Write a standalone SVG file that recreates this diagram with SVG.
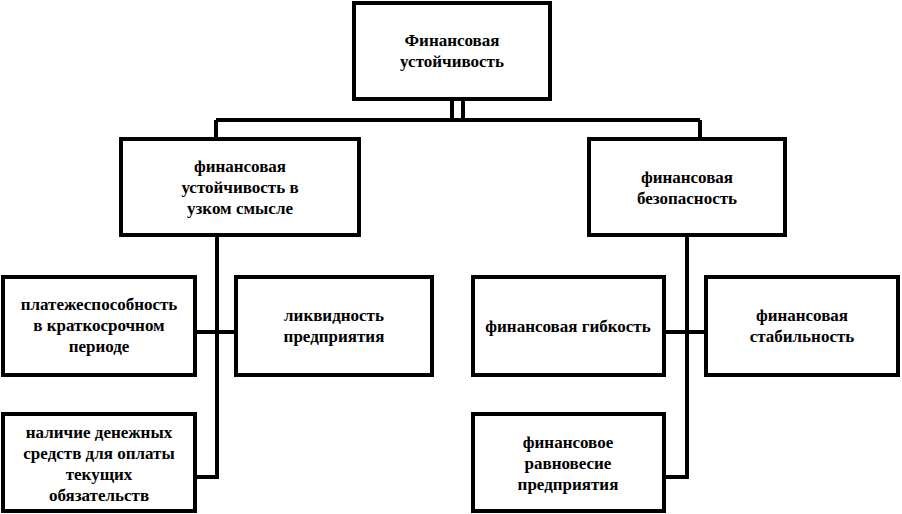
<svg xmlns="http://www.w3.org/2000/svg" width="902" height="514" viewBox="0 0 902 514">
<style>
rect{fill:#fff;stroke:#000;stroke-width:4}
.c{fill:none;stroke:#000;stroke-width:4}
text{font-family:"Liberation Serif",serif;font-size:17px;font-weight:bold;text-anchor:middle;fill:#000}
</style>
<rect x="0" y="0" width="902" height="514" style="stroke:none"/>
<g id="connectors">
<path class="c" d="M452 99V120M463 99V120M216 120H700M216 120V139M700 120V139"/>
<path class="c" d="M217 235V477H195M195 332H236"/>
<path class="c" d="M687 235V477H664M664 332H706"/>
</g>
<g id="n0"><rect x="354" y="3" width="196" height="96"/><text x="452" y="46">Финансовая</text><text x="452" y="67">устойчивость</text></g>
<g id="n1"><rect x="121" y="139" width="238" height="96"/><text x="240" y="172">финансовая</text><text x="240" y="193">устойчивость в</text><text x="240" y="214">узком смысле</text></g>
<g id="n2"><rect x="589" y="139" width="196" height="96"/><text x="687" y="183">финансовая</text><text x="687" y="204">безопасность</text></g>
<g id="n3"><rect x="3" y="277" width="192" height="98"/><text x="99" y="310">платежеспособность</text><text x="99" y="331">в краткосрочном</text><text x="99" y="352">периоде</text></g>
<g id="n4"><rect x="236" y="277" width="196" height="98"/><text x="334" y="321">ликвидность</text><text x="334" y="342">предприятия</text></g>
<g id="n5"><rect x="3" y="414" width="192" height="97"/><text x="99" y="438">наличие денежных</text><text x="99" y="459">средств для оплаты</text><text x="99" y="480">текущих</text><text x="99" y="501">обязательств</text></g>
<g id="n6"><rect x="473" y="277" width="191" height="98"/><text x="568" y="332">финансовая гибкость</text></g>
<g id="n7"><rect x="706" y="277" width="192" height="98"/><text x="802" y="321">финансовая</text><text x="802" y="342">стабильность</text></g>
<g id="n8"><rect x="473" y="414" width="191" height="97"/><text x="568" y="448">финансовое</text><text x="568" y="469">равновесие</text><text x="568" y="490">предприятия</text></g>
</svg>
